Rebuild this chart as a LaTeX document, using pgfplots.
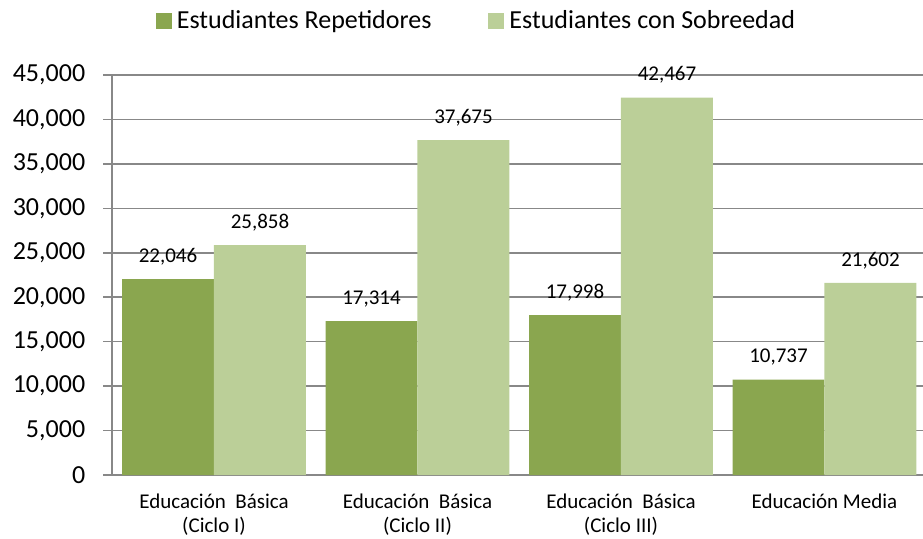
\documentclass[border=0pt]{standalone}
\usepackage{fontspec}
\setmainfont{Carlito}
\usepackage{pgfplots}
\pgfplotsset{compat=1.18}
\definecolor{darkg}{HTML}{8AA64F}
\definecolor{lightg}{HTML}{BBCF98}
\definecolor{gridg}{HTML}{888888}
\begin{document}
\begin{tikzpicture}
\useasboundingbox (-56.125pt,-31.5pt) rectangle (405.375pt,237.5pt);
\begin{axis}[
  at={(0pt,0pt)}, anchor=south west,
  scale only axis, width=407pt, height=200pt,
  xmin=-0.5, xmax=3.5, ymin=0, ymax=45000,
  axis lines=left,
  axis line style={draw=gridg, line width=0.8pt, -},
  ytick={0,5000,...,45000},
  scaled y ticks=false,
  ymajorgrids, grid style={draw=gridg, line width=0.8pt},
  /pgf/number format/.cd, 1000 sep={,}, assume math mode=true, /pgfplots/.cd,
  tick align=outside,
  major tick length=4.5pt,
  ytick style={draw=gridg, line width=0.8pt},
  yticklabel style={font=\fontsize{13}{15}\selectfont, xshift=-5.5pt},
  xtick={0,1,2,3},
  xticklabels={{Educación\ \ Básica\\(Ciclo I)},{Educación\ \ Básica\\(Ciclo II)},{Educación\ \ Básica\\(Ciclo III)},{Educación Media}},
  xticklabel style={font=\fontsize{10.5}{12}\selectfont, align=center, anchor=north, yshift=-1.5pt},
  xtick style={draw=none},
  extra x ticks={0.5,1.5,2.5},
  extra x tick labels={},
  extra x tick style={grid=none, major tick length=3pt, tick style={draw=gridg, line width=0.8pt}},
  legend style={at={(0.4493,1.135)}, anchor=center, draw=none, fill=none,
    legend columns=2, font=\fontsize{13}{15}\selectfont,
    /tikz/every even column/.append style={column sep=26pt},
    nodes={inner sep=2.5pt}},
  legend image code/.code={\fill[#1] (0pt,-4pt) rectangle (8pt,4pt);},
]
\addplot[ybar, bar width=0.452, bar shift=0pt, fill=darkg, draw=none,
  nodes near coords,
  every node near coord/.append style={font=\fontsize{10.5}{12}\selectfont, anchor=base, inner sep=0pt, yshift=8.3pt}]
  coordinates {(-0.226,22046) (0.774,17314) (1.774,17998) (2.774,10737)};
\addlegendentry{Estudiantes Repetidores}
\addplot[ybar, bar width=0.452, bar shift=0pt, fill=lightg, draw=none,
  nodes near coords,
  every node near coord/.append style={font=\fontsize{10.5}{12}\selectfont, anchor=base, inner sep=0pt, yshift=8.3pt}]
  coordinates {(0.226,25858) (1.226,37675) (2.226,42467) (3.226,21602)};
\addlegendentry{Estudiantes con Sobreedad}
\end{axis}
\end{tikzpicture}
\end{document}
